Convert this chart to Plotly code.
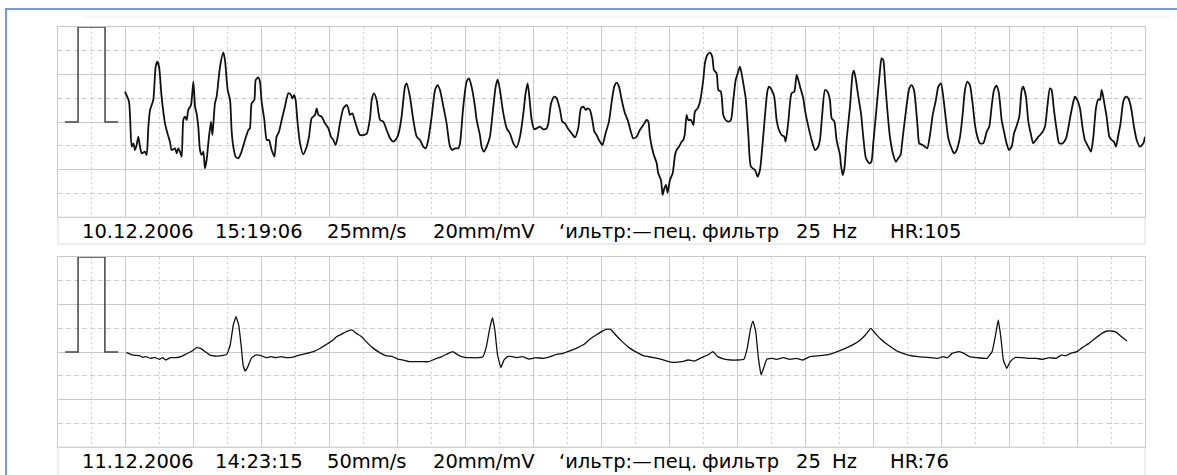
import plotly.graph_objects as go

# ---------------- data (time in s, amplitude in mV) ----------------
top_t = [0.394,0.418,0.434,0.444,0.453,0.463,0.473,0.483,0.493,0.512,0.522,0.532,0.542,0.561,0.575,0.585,0.595,0.610,0.630,0.650,
         0.659,0.669,0.689,0.699,0.708,0.718,0.728,0.738,0.748,0.758,0.767,0.783,0.797,0.807,0.816,0.826,0.836,0.846,0.856,0.865,
         0.875,0.889,0.901,0.909,0.915,0.924,0.934,0.954,0.973,0.983,0.999,1.013,1.022,1.032,1.046,1.062,1.077,1.101,1.121,1.130,
         1.140,1.156,1.164,1.179,1.189,1.199,1.215,1.229,1.242,1.258,1.274,1.287,1.301,1.317,1.336,1.356,1.372,1.380,1.391,1.399,
         1.411,1.425,1.444,1.464,1.478,1.493,1.513,1.523,1.533,1.552,1.572,1.592,1.607,1.621,1.635,1.647,1.660,1.680,1.700,1.709,
         1.719,1.733,1.749,1.768,1.778,1.798,1.817,1.837,1.847,1.860,1.876,1.896,1.915,1.935,1.955,1.974,1.994,2.008,2.023,2.043,
         2.053,2.072,2.092,2.112,2.131,2.151,2.165,2.180,2.200,2.220,2.235,2.249,2.269,2.288,2.308,2.322,2.337,2.357,2.367,2.386,
         2.406,2.420,2.435,2.455,2.465,2.484,
         2.494,2.508,2.524,2.543,2.563,2.577,2.589,2.602,2.622,2.642,2.661,2.681,2.700,2.720,2.740,2.753,2.765,2.775,2.789,2.804,
         2.818,2.838,2.857,2.877,2.887,2.903,2.922,2.936,2.956,2.969,2.985,3.005,3.024,3.044,3.063,3.079,3.093,3.107,3.118,3.132,
         3.146,3.158,3.171,3.185,3.205,3.224,3.244,3.260,3.275,3.289,3.303,3.319,3.338,3.354,3.370,3.387,3.407,3.426,3.446,3.466,
         3.476,3.485,3.505,3.525,3.534,3.550,3.560,3.570,3.580,3.589,3.603,3.619,3.633,3.642,3.656,3.672,3.682,3.691,3.701,3.711,
         3.727,3.741,3.750,3.766,3.780,3.799,3.809,3.823,3.839,3.852,3.862,3.878,3.888,3.903,3.917,3.931,3.947,3.962,3.976,3.990,
         4.002,4.015,4.025,4.035,4.049,4.064,4.080,4.104,4.119,4.133,4.147,4.162,4.178,4.188,4.202,4.217,4.231,4.245,4.261,4.276,
         4.284,4.300,4.319,4.335,4.349,4.359,4.369,4.388,4.398,4.418,4.437,4.457,4.471,4.486,4.500,4.516,4.531,4.545,4.555,4.571,
         4.584,4.604,
         4.610,4.620,4.630,4.643,4.663,4.679,4.686,4.698,4.712,4.728,4.741,4.757,4.777,4.789,4.800,4.820,4.840,4.849,4.859,4.869,
         4.883,4.898,4.918,4.934,4.947,4.961,4.973,4.993,5.012,5.026,5.040,5.051,5.061,5.071,5.091,5.104,5.118,5.134,5.150,5.169,
         5.183,5.199,5.212,5.228,5.242,5.261,5.275,5.291,5.311,5.326,5.340,5.354,5.369,5.385,5.399,5.413,5.428,5.448,5.468,5.483,
         5.497,5.511,5.526,5.540,5.556,5.570,5.585,5.599,5.615,5.629,5.644,5.660,5.674,5.683,5.699,5.713,5.727,5.742,5.758,5.772,
         5.791,5.811,5.825,5.840,5.850,5.864,5.880,5.895,5.915,5.935,5.948,5.962,5.978,5.988,6.001,6.017,6.033,6.046,6.066,6.082,
         6.096,6.111,6.125,6.135,6.145,6.154,6.164,6.174,6.190,6.203,6.217,6.229,6.243,6.256,6.272,6.288,6.302,6.317,6.335,6.351,
         6.370,6.390,6.400]
top_mv = [0.319,0.214,-0.260,-0.225,-0.295,-0.242,-0.154,-0.260,-0.330,-0.312,-0.347,-0.049,0.126,0.232,0.582,0.635,0.582,0.267,-0.014,-0.154,
          -0.207,-0.295,-0.277,-0.330,-0.277,-0.312,-0.365,0.021,0.056,0.021,0.126,0.179,0.425,0.161,0.091,-0.049,-0.295,-0.347,-0.312,-0.488,
          -0.400,-0.154,0.004,-0.137,-0.014,0.196,0.267,0.582,0.733,0.653,0.337,0.232,-0.084,-0.260,-0.365,-0.382,-0.330,-0.189,-0.084,-0.067,
          0.196,0.232,0.442,0.470,0.425,0.214,0.021,-0.189,-0.189,-0.295,-0.365,-0.154,-0.102,0.021,0.161,0.302,0.284,0.249,0.284,0.232,
          -0.014,-0.225,-0.340,-0.260,-0.154,0.039,0.074,0.144,0.074,0.056,-0.014,-0.067,-0.154,-0.189,-0.242,-0.154,-0.014,0.144,0.179,0.144,
          0.074,0.091,0.004,-0.102,-0.137,-0.137,-0.126,0.039,0.232,0.302,0.232,0.021,0.004,-0.084,-0.172,-0.207,-0.172,-0.102,0.056,0.372,
          0.407,0.267,0.021,-0.154,-0.189,-0.260,-0.277,-0.189,0.056,0.337,0.389,0.337,0.161,-0.014,-0.260,-0.295,-0.277,-0.277,-0.225,0.161,
          0.425,0.460,0.372,0.161,0.021,-0.137,
          -0.260,-0.312,-0.260,-0.154,0.161,0.372,0.449,0.337,0.091,-0.067,-0.119,-0.225,-0.267,-0.154,0.091,0.302,0.407,0.267,0.021,-0.077,
          -0.067,-0.049,-0.077,-0.067,-0.014,0.196,0.267,0.249,0.126,0.004,-0.014,-0.077,-0.119,-0.161,-0.067,0.144,0.161,0.126,0.144,0.126,
          0.021,-0.102,-0.137,-0.189,-0.242,-0.119,0.004,0.214,0.372,0.414,0.372,0.232,0.091,0.021,-0.084,-0.172,-0.154,-0.084,-0.032,0.021,
          0.004,-0.154,-0.330,-0.435,-0.540,-0.611,-0.768,-0.698,-0.663,-0.744,-0.611,-0.540,-0.347,-0.295,-0.260,-0.207,-0.189,-0.119,0.074,0.021,
          0.021,-0.032,0.109,0.144,0.214,0.442,0.618,0.705,0.730,0.688,0.547,0.512,0.337,0.319,0.074,0.021,0.004,0.021,0.232,0.442,
          0.512,0.582,0.512,0.407,0.249,-0.119,-0.470,-0.505,-0.575,-0.505,-0.260,0.056,0.337,0.372,0.337,0.267,0.021,-0.084,-0.137,-0.154,
          -0.207,0.004,0.302,0.319,0.495,0.442,0.372,0.249,0.126,-0.049,-0.189,-0.295,-0.277,-0.189,0.091,0.337,0.319,0.232,0.039,0.004,
          -0.189,-0.347,
          -0.453,-0.558,-0.488,-0.189,0.161,0.512,0.540,0.442,0.267,0.091,-0.154,-0.382,-0.435,-0.418,-0.225,0.161,0.547,0.670,0.653,0.442,
          0.126,-0.154,-0.347,-0.418,-0.382,-0.347,-0.172,0.126,0.354,0.389,0.337,0.161,-0.049,-0.225,-0.242,-0.260,-0.277,-0.137,0.074,0.232,
          0.372,0.407,0.267,0.021,-0.172,-0.277,-0.330,-0.295,-0.154,0.074,0.337,0.425,0.389,0.196,-0.032,-0.154,-0.225,-0.225,-0.102,-0.049,
          0.161,0.337,0.382,0.302,0.021,-0.102,-0.225,-0.295,-0.260,-0.119,-0.042,0.056,0.337,0.372,0.267,0.004,-0.119,-0.225,-0.189,-0.154,
          -0.119,-0.049,0.161,0.354,0.337,0.126,-0.084,-0.225,-0.225,-0.172,-0.067,0.074,0.214,0.267,0.232,0.144,-0.067,-0.189,-0.260,-0.312,
          -0.154,0.144,0.239,0.232,0.337,0.267,0.161,0.056,-0.154,-0.189,-0.207,-0.260,-0.137,-0.014,0.214,0.267,0.249,0.161,-0.049,-0.189,
          -0.260,-0.225,-0.154]

bot_t = [0.201,0.221,0.240,0.250,0.259,0.273,0.284,0.298,0.308,0.317,0.331,0.346,0.362,0.375,0.395,0.408,0.420,0.433,0.447,0.462,
         0.482,0.497,0.507,0.516,0.524,0.532,0.540,0.545,0.551,0.559,0.569,0.582,0.598,0.613,0.627,0.640,0.656,0.671,0.691,0.710,
         0.729,0.752,0.772,0.791,0.810,0.820,0.834,0.849,0.865,0.878,0.894,0.907,0.926,0.946,0.965,0.985,1.000,1.014,1.033,1.052,
         1.072,1.091,1.110,1.130,1.149,1.162,1.178,1.197,1.217,1.236,1.251,1.261,1.271,1.279,1.286,1.294,1.304,1.313,1.323,1.337,
         1.352,1.367,1.387,1.406,1.429,1.449,1.468,1.487,1.507,1.530,1.549,1.569,1.584,1.600,1.613,1.627,1.642,1.661,1.681,1.700,
         1.723,1.749,1.774,1.793,1.812,1.836,1.855,1.874,1.894,1.913,1.928,1.942,1.961,1.981,2.000,2.019,2.029,2.039,2.046,2.054,
         2.062,2.070,2.077,2.087,2.103,2.116,2.135,2.155,2.174,2.193,2.213,2.242,2.271,2.300,2.329,2.358,2.377,2.393,2.406,2.425,
         2.451,2.474,2.503,2.532,2.561,2.590,2.605,2.619,2.632,2.652,2.667,2.683,2.706,2.735,2.750,2.760,2.768,2.776,2.783,2.793,
         2.803,2.818,2.837,2.857,2.880,2.899,2.919,2.938,2.954,2.967,2.981,3.000,3.015,3.035,3.054,3.073,3.089,3.102,3.116,3.131,
         3.147]
bot_mv = [-0.007,-0.032,-0.039,-0.056,-0.049,-0.067,-0.056,-0.077,-0.060,-0.084,-0.060,-0.060,-0.049,-0.025,0.011,0.046,0.039,0.004,-0.032,-0.042,
          -0.039,-0.025,0.074,0.284,0.372,0.284,0.039,-0.137,-0.200,-0.154,-0.067,-0.032,-0.039,-0.060,-0.049,-0.060,-0.049,-0.060,-0.053,-0.032,
          -0.018,0.004,0.039,0.081,0.126,0.161,0.186,0.214,0.232,0.196,0.161,0.109,0.046,-0.004,-0.039,-0.049,-0.074,-0.084,-0.102,-0.102,
          -0.102,-0.102,-0.074,-0.049,-0.014,0.004,-0.032,-0.056,-0.060,-0.060,-0.049,0.056,0.249,0.361,0.232,-0.032,-0.165,-0.084,-0.049,-0.049,
          -0.060,-0.049,-0.074,-0.060,-0.067,-0.049,-0.025,-0.014,0.011,0.046,0.081,0.144,0.179,0.214,0.239,0.239,0.179,0.109,0.046,0.004,
          -0.039,-0.056,-0.074,-0.095,-0.109,-0.102,-0.084,-0.095,-0.060,-0.032,0.004,-0.049,-0.074,-0.084,-0.084,-0.077,0.039,0.249,0.326,0.214,
          -0.067,-0.242,-0.172,-0.074,-0.067,-0.077,-0.060,-0.077,-0.067,-0.084,-0.049,-0.039,-0.025,0.011,0.056,0.116,0.179,0.249,0.196,0.126,
          0.056,0.004,-0.032,-0.049,-0.056,-0.067,-0.049,-0.060,-0.014,0.004,-0.014,-0.049,-0.060,-0.067,0.004,0.179,0.337,0.144,-0.084,-0.172,
          -0.102,-0.056,-0.060,-0.067,-0.067,-0.077,-0.060,-0.067,-0.032,-0.039,-0.014,0.004,0.046,0.091,0.144,0.196,0.221,0.221,0.207,0.161,
          0.116]

# 1 mV calibration pulse
cal_top_t = [0.041, 0.118, 0.118, 0.277, 0.277, 0.353]
cal_bot_t = [0.021, 0.059, 0.059, 0.138, 0.138, 0.177]
cal_mv = [0.0, 0.0, 1.0, 1.0, 0.0, 0.0]

top_labels = ["10.12.2006", "15:19:06", "25mm/s", "20mm/mV", "\u2018ильтр:\u2014", "пец.", "фильтр", "25", "Hz", "HR:105"]
bot_labels = ["11.12.2006", "14:23:15", "50mm/s", "20mm/mV", "\u2018ильтр:\u2014", "пец.", "фильтр", "25", "Hz", "HR:76"]

# ---------------- layout geometry ----------------
W, H = 1177, 475
label_x_px = [80, 213, 325, 431, 557, 651, 700, 794, 830, 888]
X0, X1 = 58, 1145
TOP_Y0, TOP_Y1 = 27, 217
BOT_Y0, BOT_Y1 = 257, 447

def px(x):
    return x / W

def py(y):
    return 1 - y / H

MAJ = "#c9c9c9"
MIN = "#cdcdcd"
FONT = "DejaVu Sans"

fig = go.Figure()
fig.add_trace(go.Scatter(x=top_t, y=top_mv, mode="lines",
                         line=dict(color="#111111", width=1.8, shape="spline", smoothing=0.6),
                         xaxis="x", yaxis="y", hoverinfo="skip"))
fig.add_trace(go.Scatter(x=cal_top_t, y=cal_mv, mode="lines", line=dict(color="#444444", width=1.5),
                         xaxis="x", yaxis="y", hoverinfo="skip"))
fig.add_trace(go.Scatter(x=bot_t, y=bot_mv, mode="lines",
                         line=dict(color="#111111", width=1.3, shape="spline", smoothing=0.3),
                         xaxis="x2", yaxis="y2", hoverinfo="skip"))
fig.add_trace(go.Scatter(x=cal_bot_t, y=cal_mv, mode="lines", line=dict(color="#444444", width=1.5),
                         xaxis="x2", yaxis="y2", hoverinfo="skip"))

def xax(rng, dt, anchor):
    return dict(domain=[px(X0), px(X1)], range=rng, dtick=dt, tick0=0, anchor=anchor,
                showgrid=True, gridcolor=MAJ, gridwidth=1, zeroline=False,
                showline=True, mirror=True, linecolor=MAJ, linewidth=1,
                showticklabels=False, ticks="", fixedrange=True,
                minor=dict(dtick=dt / 2, tick0=0, showgrid=True, gridcolor=MIN, griddash="2px,3px", gridwidth=1, ticks=""))

def yax(dom, anchor):
    return dict(domain=dom, range=[-1, 1], dtick=0.5, tick0=0, anchor=anchor,
                showgrid=True, gridcolor=MAJ, gridwidth=1, zeroline=False,
                showline=True, mirror=True, linecolor=MAJ, linewidth=1,
                showticklabels=False, ticks="", fixedrange=True,
                minor=dict(dtick=0.25, tick0=0, showgrid=True, gridcolor=MIN, griddash="5px,3px", gridwidth=1, ticks=""))

shapes = [
    # blue frame (top and left edges)
    dict(type="line", xref="paper", yref="paper", x0=px(5), x1=px(W), y0=py(9), y1=py(9),
         line=dict(color="#4a7ccc", width=1.5)),
    dict(type="line", xref="paper", yref="paper", x0=px(6), x1=px(6), y0=py(9), y1=py(H),
         line=dict(color="#4a7ccc", width=1.5)),
    # faint top rule
    dict(type="line", xref="paper", yref="paper", x0=px(83), x1=px(1170), y0=py(17), y1=py(17),
         line=dict(color="#eeeeee", width=1)),
    # caption boxes
    dict(type="rect", xref="paper", yref="paper", x0=px(X0), x1=px(X1), y0=py(244), y1=py(TOP_Y1),
         line=dict(color="#dadada", width=1), fillcolor="rgba(0,0,0,0)"),
    dict(type="rect", xref="paper", yref="paper", x0=px(X0), x1=px(X1), y0=py(H + 5), y1=py(BOT_Y1),
         line=dict(color="#dadada", width=1), fillcolor="rgba(0,0,0,0)"),
]

annotations = []
for labels, ycen in ((top_labels, 232), (bot_labels, 461.5)):
    for lab, xp in zip(labels, label_x_px):
        annotations.append(dict(text=lab, xref="paper", yref="paper", x=px(xp), y=py(ycen),
                                xanchor="left", yanchor="middle", showarrow=False,
                                font=dict(family=FONT, size=19.5, color="#000000")))

fig.update_layout(
    width=W, height=H, autosize=False,
    margin=dict(l=0, r=0, t=0, b=0, pad=0),
    paper_bgcolor="white", plot_bgcolor="white",
    showlegend=False, hovermode=False,
    xaxis=xax([0, 6.4], 0.4, "y"),
    yaxis=yax([py(TOP_Y1), py(TOP_Y0)], "x"),
    xaxis2=xax([0, 3.2], 0.2, "y2"),
    yaxis2=yax([py(BOT_Y1), py(BOT_Y0)], "x2"),
    shapes=shapes, annotations=annotations,
)

fig.write_html("out.html", config={"displayModeBar": False, "staticPlot": True})
